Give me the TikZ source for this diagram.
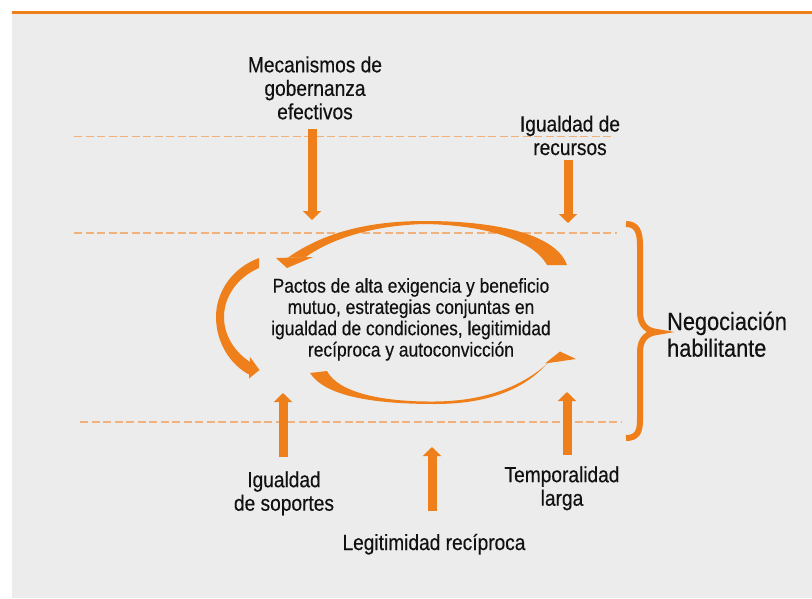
\documentclass[tikz,border=0pt]{standalone}
\usepackage{fontspec}
\setmainfont{Liberation Sans}[FakeStretch=0.87,FakeBold=0.35]
\usetikzlibrary{arrows.meta}
\definecolor{bg}{HTML}{EBECEB}
\definecolor{org}{HTML}{EE7F1A}
\definecolor{dsh}{HTML}{F2B07A}
\definecolor{ink}{HTML}{111111}
\begin{document}
\begin{tikzpicture}[x=1pt,y=-1pt,
  lbl/.style={align=center, font=\fontsize{22}{23.5}\selectfont, text=ink, inner sep=0pt},
  guide/.style={draw=dsh, line width=1.9pt, dash pattern=on 8pt off 3.5pt},
  bigarrow/.style={draw=org, line width=9pt, -{Triangle[width=18pt,length=9pt]}},
  sweep/.style={fill=org, draw=none}]
\useasboundingbox (0,0) rectangle (812,598);
\fill[bg] (12,13) rectangle (812,598);
\fill[org] (12,11) rectangle (812,13.7);

% guide lines
\draw[guide] (74,136.5) -- (612,136.5);
\draw[guide] (74,232.7) -- (617,232.7);
\draw[guide] (80,421.7) -- (622,421.7);

% labels (base anchor = baseline of last line)
\node[lbl, anchor=base] (mec) at (315,119.3) {Mecanismos de\\gobernanza\\efectivos};
\node[lbl, anchor=base] (rec) at (570,155) {Igualdad de\\recursos};
\node[lbl, anchor=base] (sop) at (284,510.7) {Igualdad\\de soportes};
\node[lbl, anchor=base] (tem) at (562,505.7) {Temporalidad\\larga};
\node[lbl, anchor=base] (leg) at (434,550) {Legitimidad recíproca};
\node[lbl, anchor=base, font=\fontsize{20}{21.3}\selectfont] (pac) at (411,356.5)
  {Pactos de alta exigencia y beneficio\\mutuo, estrategias conjuntas en\\igualdad de condiciones, legitimidad\\recíproca y autoconvicción};
\node[lbl, anchor=base west, align=left, font=\fontsize{25}{26.7}\selectfont] (neg) at (667,356.7)
  {Negociación\\habilitante};

% straight arrows
\coordinate (mecA) at (312,129);  \coordinate (mecB) at (312,220);
\coordinate (recA) at (568,160);  \coordinate (recB) at (568,223);
\coordinate (sopA) at (283,457);  \coordinate (sopB) at (283,393);
\coordinate (legA) at (432,511);  \coordinate (legB) at (432,447);
\coordinate (temA) at (567,455);  \coordinate (temB) at (567,392);
\draw[bigarrow] (mecA) -- (mecB);
\draw[bigarrow] (recA) -- (recB);
\draw[bigarrow] (sopA) -- (sopB);
\draw[bigarrow] (legA) -- (legB);
\draw[bigarrow] (temA) -- (temB);

% top sweep (head at left)
\fill[sweep] (288,257.5) .. controls (330,228) and (380,221) .. (425,221)
  .. controls (490,221) and (555,232) .. (567,265) -- (547,265)
  .. controls (532,238) and (480,225) .. (425,224)
  .. controls (380,225) and (335,236) .. (305,257.5) -- cycle;
\fill[sweep] (276,258) -- (313,257) -- (287,268) -- cycle;

% left sweep (head at bottom right)
\fill[sweep] (259,258) .. controls (232,268) and (216,292) .. (216,317)
  .. controls (216,342) and (230,365) .. (250,375) -- (250,362)
  .. controls (235,352) and (224,336) .. (224,317)
  .. controls (224,296) and (238,277) .. (259,268) -- cycle;
\fill[sweep] (250,357) -- (259.5,370) -- (249,378.5) -- cycle;

% bottom sweep (head at right)
\fill[sweep] (310,373) .. controls (325,396) and (372,404) .. (435,404)
  .. controls (495,404) and (530,385) .. (550,360) -- (556,355)
  .. controls (533,380) and (495,401) .. (435,401.5)
  .. controls (380,402) and (338,392) .. (327,371) -- cycle;
\fill[sweep] (560,351.5) -- (576,359) -- (545,363.5) -- cycle;

% brace
\draw[org, line width=6pt] (626,224) .. controls (637,224) and (640,232) .. (640,245)
  -- (640,312) .. controls (640,326) and (648,331) .. (657,332)
  .. controls (648,333) and (640,338) .. (640,352)
  -- (640,420) .. controls (640,432) and (637,438) .. (626,438);
\end{tikzpicture}
\end{document}
